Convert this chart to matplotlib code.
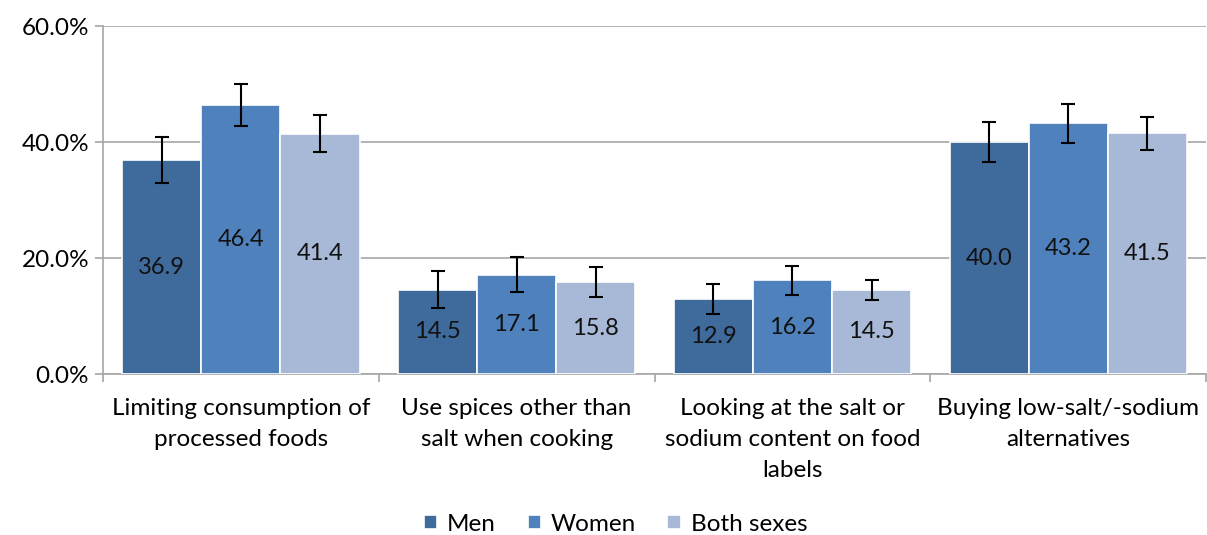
import numpy as np
import matplotlib.pyplot as plt
from matplotlib.ticker import FuncFormatter

plt.rcParams['font.family'] = ['Lato', 'DejaVu Sans']

# data
categories = ['Limiting consumption of\nprocessed foods',
              'Use spices other than\nsalt when cooking',
              'Looking at the salt or\nsodium content on food\nlabels',
              'Buying low-salt/-sodium\nalternatives']
series = ['Men', 'Women', 'Both sexes']
men = [36.9, 14.5, 12.9, 40.0]
women = [46.4, 17.1, 16.2, 43.2]
both = [41.4, 15.8, 14.5, 41.5]
men_err = [4.0, 3.2, 2.6, 3.4]
women_err = [3.6, 3.0, 2.5, 3.4]
both_err = [3.2, 2.6, 1.7, 2.8]
colors = ['#3F6A9C', '#4F81BD', '#A8B9D8']

fs = 17.5

fig = plt.figure(figsize=(12.07, 5.35), dpi=100)
ax = fig.add_axes([0.0853, 0.3009, 0.914, 0.6505])

x = np.arange(len(categories))
w = 0.287
vals = [men, women, both]
errs = [men_err, women_err, both_err]
for i in range(3):
    pos = x + (i - 1) * w
    ax.bar(pos, vals[i], w, color=colors[i], edgecolor='white', linewidth=1.2,
           label=series[i], zorder=3)
    ax.errorbar(pos, vals[i], yerr=errs[i], fmt='none', ecolor='black',
                elinewidth=1.5, capsize=5, capthick=1.5, zorder=4)
    for p, v in zip(pos, vals[i]):
        ax.text(p, v / 2, f'{v:.1f}', ha='center', va='center', fontsize=17,
                color='#111111', zorder=5)

ax.set_xlim(-0.5, len(categories) - 0.5)
ax.set_ylim(0, 60)
ax.set_yticks([0, 20, 40, 60])
ax.yaxis.set_major_formatter(FuncFormatter(lambda v, p: f'{v:.1f}%'))
ax.yaxis.grid(True, color='#A6A6A6', linewidth=1.2, zorder=0)

ax.set_xticks(x)
ax.set_xticklabels(categories, fontsize=fs, linespacing=1.6)
ax.set_xticks(np.arange(-0.5, len(categories)), minor=True)
ax.tick_params(axis='x', which='major', length=0, pad=17)
ax.tick_params(axis='x', which='minor', length=6, color='#A6A6A6', width=1.2)
ax.tick_params(axis='y', length=6, color='#A6A6A6', width=1.2, labelsize=fs, pad=4)

for s in ['top', 'right']:
    ax.spines[s].set_visible(False)
for s in ['left', 'bottom']:
    ax.spines[s].set_color('#A6A6A6')
    ax.spines[s].set_linewidth(1.2)

fig.legend(loc='lower center', bbox_to_anchor=(0.51, -0.04), ncol=3,
           frameon=False, fontsize=fs, handlelength=0.55, handleheight=0.55,
           handletextpad=0.4, columnspacing=1.3)

fig.savefig('out.png', dpi=100)
